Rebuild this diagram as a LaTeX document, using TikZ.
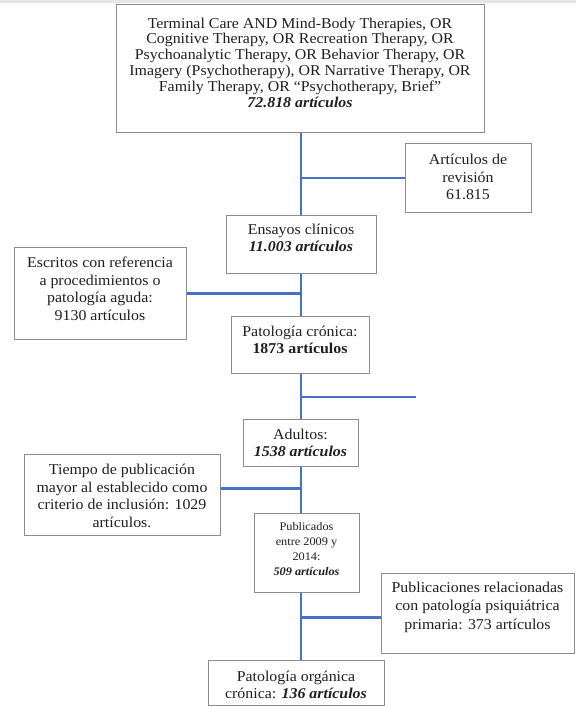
\documentclass[tikz,border=0pt]{standalone}
\usepackage{fontspec}
\setmainfont[FakeStretch=1.06]{Liberation Serif}
\definecolor{lineblue}{RGB}{68,114,196}
\definecolor{boxgray}{RGB}{140,140,140}
\definecolor{txtc}{RGB}{30,30,30}
\tikzset{
  boxn/.style={draw=boxgray, line width=1pt, rectangle, inner sep=0pt, anchor=north west},
  txtn/.style={align=center, text=txtc, font=\fontsize{15}{17.5}\selectfont, inner sep=0pt},
  conn/.style={draw=lineblue, line width=2.8pt},
}
\begin{document}
\begin{tikzpicture}[x=1pt,y=-1pt]
\useasboundingbox (0,0) rectangle (576,706);
\fill[black!10] (0,0) rectangle (576,3.5);
\coordinate (T) at (301,0);
% boxes
\node[boxn, minimum width=368pt, minimum height=128pt] (top) at (116,4) {};
\node[boxn, minimum width=126pt, minimum height=69pt] (rev) at (405,143) {};
\node[boxn, minimum width=150pt, minimum height=58pt] (ens) at (226,215) {};
\node[boxn, minimum width=172.5pt, minimum height=92pt] (esc) at (13.5,247) {};
\node[boxn, minimum width=138.5pt, minimum height=57pt] (cro) at (230.5,316) {};
\node[boxn, minimum width=115pt, minimum height=47pt] (adu) at (243,419) {};
\node[boxn, minimum width=196.5pt, minimum height=81pt] (tie) at (23.5,454) {};
\node[boxn, minimum width=105pt, minimum height=79pt] (pub) at (254,513) {};
\node[boxn, minimum width=193pt, minimum height=80pt] (prm) at (381,573) {};
\node[boxn, minimum width=176pt, minimum height=45pt] (org) at (208,660) {};
% texts
\node[txtn, font=\fontsize{15}{15.8}\selectfont] (top-t) at (300,62.5) {Terminal Care AND Mind-Body Therapies, OR\\Cognitive Therapy, OR Recreation Therapy, OR\\Psychoanalytic Therapy, OR Behavior Therapy, OR\\Imagery (Psychotherapy), OR Narrative Therapy, OR\\Family Therapy, OR “Psychotherapy, Brief”\\\textbf{\textit{72.818 artículos}}};
\node[txtn] (rev-t) at (468,177) {Artículos de\\revisión\\61.815};
\node[txtn] (ens-t) at (301,238) {Ensayos clínicos\\\textbf{\textit{11.003 artículos}}};
\node[txtn] (esc-t) at (100,289) {Escritos con referencia\\a procedimientos o\\patología aguda:\\9130 artículos};
\node[txtn] (cro-t) at (300,340) {Patología crónica:\\\textbf{1873 artículos}};
\node[txtn] (adu-t) at (300.5,443) {Adultos:\\\textbf{\textit{1538 artículos}}};
\node[txtn] (tie-t) at (122,496) {Tiempo de publicación\\mayor al establecido como\\criterio de inclusión: 1029\\artículos.};
\node[txtn, font=\fontsize{11.6}{15.2}\selectfont] (pub-t) at (306.5,549) {Publicados\\entre 2009 y\\2014:\\\textbf{\textit{509 artículos}}};
\node[txtn, font=\fontsize{15}{18.5}\selectfont] (prm-t) at (477.5,607) {Publicaciones relacionadas\\con patología psiquiátrica\\primaria: 373 artículos};
\node[txtn, font=\fontsize{15}{16.5}\selectfont] (org-t) at (296,685) {Patología orgánica\\crónica: \textbf{\textit{136 artículos}}};
% connectors
\coordinate (fe) at (416,397);
\draw[conn] (top.south -| T) -- (ens.north -| T);
\draw[conn] (rev.west) -- (rev.west -| T);
\draw[conn] (ens.south -| T) -- (cro.north -| T);
\draw[conn] (esc.east) -- (esc.east -| T);
\draw[conn] (cro.south -| T) -- (adu.north -| T);
\draw[conn] (fe) -- (fe -| T);
\draw[conn] (adu.south -| T) -- (pub.north -| T);
\draw[conn] ([yshift=6.5pt]tie.east) -- ([yshift=6.5pt]tie.east -| T);
\draw[conn] (pub.south -| T) -- (org.north -| T);
\draw[conn] ([yshift=-4pt]prm.west) -- ([yshift=-4pt]prm.west -| T);
\end{tikzpicture}
\end{document}
